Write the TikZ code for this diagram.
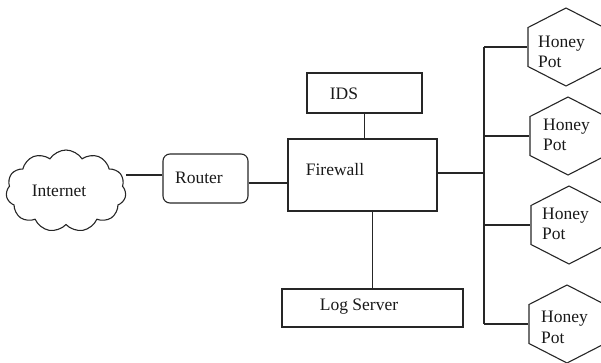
\documentclass[tikz,border=0pt]{standalone}
\usepackage{fontspec}
\setmainfont{Liberation Serif}
\usetikzlibrary{shapes.symbols,shapes.geometric}
\begin{document}
\begin{tikzpicture}[x=1pt,y=-1pt,
  every node/.style={font=\fontsize{17.5}{20.5}\selectfont},
  line/.style={line width=1.1pt, draw=black!85},
  box/.style={line, rectangle, inner sep=0pt},
  txt/.style={inner sep=0pt, text=black!90},
  hexpot/.style={line, regular polygon, regular polygon sides=6,
    regular polygon rotate=30, minimum size=78pt, inner sep=0pt, xscale=1.125},
  cloudshape/.style={line, cloud, cloud puffs=11, cloud puff arc=115,
    minimum width=120pt, minimum height=82pt, inner sep=0pt}
]
\useasboundingbox (0,0) rectangle (601,362);

% nodes
\node[cloudshape] (internet) at (66,191) {};
\node[txt] (internetT) at (59,191) {Internet};

\node[box, rounded corners=7pt, minimum width=85pt, minimum height=49pt] (router) at (205.5,178.5) {};
\node[txt] (routerT) at (199,178) {Router};

\node[box, minimum width=149pt, minimum height=72pt] (fw) at (362.5,175) {};
\node[txt] (fwT) at (335,170) {Firewall};

\node[box, minimum width=115pt, minimum height=40pt] (ids) at (364.5,93) {};
\node[txt] (idsT) at (344,94) {IDS};

\node[box, minimum width=181pt, minimum height=38pt] (log) at (372.5,308) {};
\node[txt] (logT) at (359,307) {Log Server};

\node[hexpot] (hp1) at (566,47) {};
\node[hexpot] (hp2) at (568,136) {};
\node[hexpot] (hp3) at (569,225) {};
\node[hexpot] (hp4) at (567,324) {};
\node[txt, align=left, anchor=west] (hp1T) at (538,52) {Honey\\Pot};
\node[txt, align=left, anchor=west] (hp2T) at (543,135) {Honey\\Pot};
\node[txt, align=left, anchor=west] (hp3T) at (542,224) {Honey\\Pot};
\node[txt, align=left, anchor=west] (hp4T) at (541,327.5) {Honey\\Pot};

% connectors
\coordinate (ir) at ([yshift=3.5pt]router.west);
\draw[line] (ir) -- (ir -| internet.east);
\coordinate (rf) at ([yshift=-4.5pt]router.east);
\draw[line] (rf) -- (rf -| fw.west);
\draw[line] (ids.south) -- (ids.south |- fw.north);
\draw[line] (log.north) -- (log.north |- fw.south);

\coordinate (bus) at (484,0);
\coordinate (fwo) at ([yshift=2pt]fw.east);
\draw[line] (fwo) -- (fwo -| bus);
\draw[line] (bus |- hp1.west) -- (bus |- hp4.west);
\foreach \h in {hp1,hp2,hp3,hp4}{
  \draw[line] (bus |- \h.west) -- (\h.west);
}
\end{tikzpicture}
\end{document}
